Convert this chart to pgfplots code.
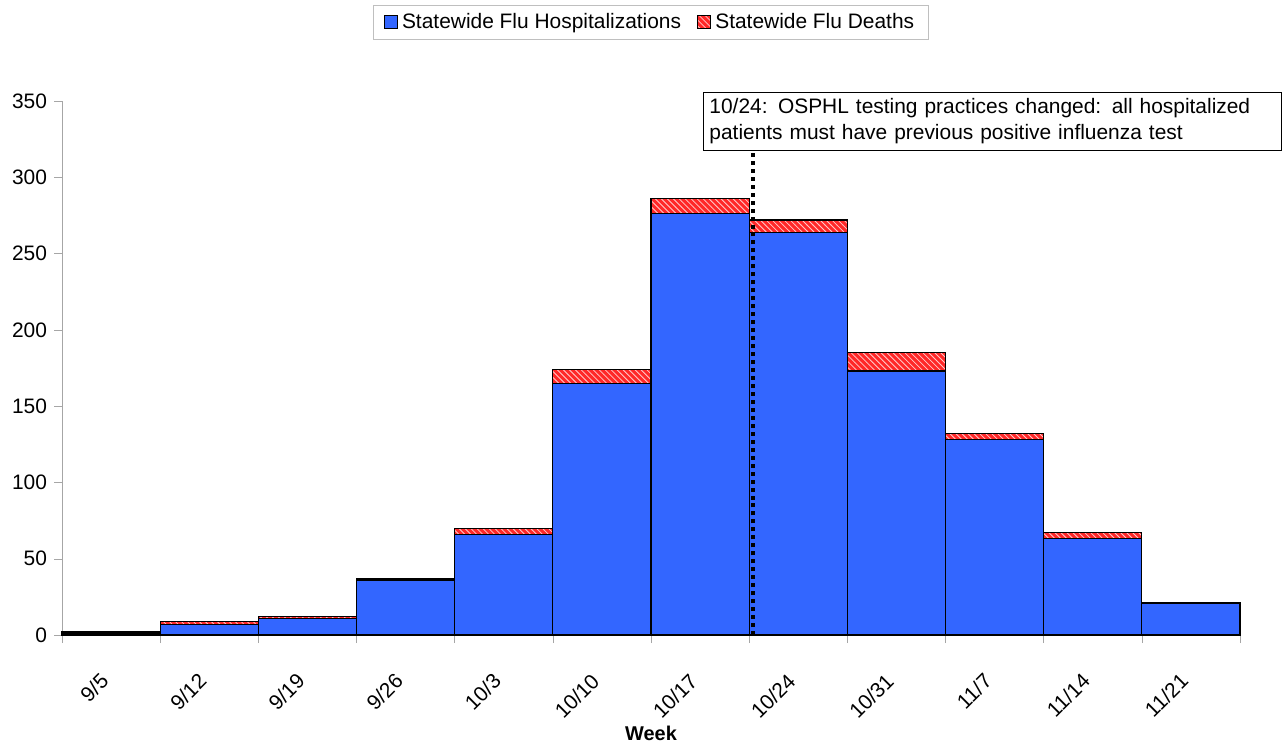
\documentclass[border=0pt]{standalone}
\usepackage{fontspec}
\setmainfont{Liberation Sans}
\usepackage{pgfplots}
\pgfplotsset{compat=1.18}
\usetikzlibrary{patterns}

\definecolor{hospblue}{RGB}{51,102,255}
\definecolor{deathred}{RGB}{255,40,40}
\definecolor{stripe}{RGB}{255,200,200}

\begin{document}
\begin{tikzpicture}
\useasboundingbox (0,0) rectangle (643bp,372.5bp);
\begin{axis}[
    at={(31bp,55bp)}, anchor=south west,
    scale only axis,
    width=589bp, height=267bp,
    ybar stacked,
    bar width=1,
    xmin=0, xmax=12,
    ymin=0, ymax=350,
    clip=false,
    axis lines=left,
    axis line style={-, draw=gray!70},
    tick style={draw=gray!70},
    tick align=outside,
    ytick={0,50,...,350},
    xtick={0.5,1.5,...,11.5},
    xticklabels={9/5,9/12,9/19,9/26,10/3,10/10,10/17,10/24,10/31,11/7,11/14,11/21},
    major x tick style={draw=none},
    minor xtick={0,1,...,12},
    minor tick length=4bp,
    major tick length=4bp,
    xticklabel style={rotate=45, anchor=north east, xshift=-11bp, yshift=-2.5bp},
    tick label style={font=\fontsize{10.5}{12}\selectfont},
    /pgf/number format/assume math mode=true,
    xlabel={\textbf{Week}},
    xlabel style={font=\fontsize{10}{12}\selectfont,
        at={(axis description cs:0.5,-0.1835)}, anchor=center},
    legend style={at={(0.5,1.18)}, anchor=north, legend columns=2, draw=gray!50,
        font=\fontsize{10.5}{12}\selectfont, inner xsep=5bp, inner ysep=2bp,
        /tikz/every even column/.append style={column sep=6bp}},
    legend cell align=left,
    legend image code/.code={\draw[#1, line width=0.5pt] (0bp,-3.3bp) rectangle (6.6bp,3.3bp);},
]
\addplot[fill=hospblue, draw=black, line width=0.6pt] coordinates {
    (0.5,1) (1.5,7) (2.5,11) (3.5,36) (4.5,66) (5.5,165)
    (6.5,276) (7.5,264) (8.5,173) (9.5,128) (10.5,63) (11.5,21)};
\addplot[fill=deathred, draw=black, line width=0.6pt,
    postaction={pattern=north west lines, pattern color=stripe}] coordinates {
    (0.5,1) (1.5,2) (2.5,1) (3.5,1) (4.5,4) (5.5,9)
    (6.5,10) (7.5,8) (8.5,12) (9.5,4) (10.5,4) (11.5,0)};
\legend{Statewide Flu Hospitalizations, Statewide Flu Deaths}
\coordinate (lineb) at (axis cs:7.04,0);
\coordinate (linet) at (axis cs:7.04,350);
\coordinate (boxnw) at (axis cs:6.53,355.8);
\end{axis}
\draw[black, line width=2pt, dash pattern=on 2pt off 2pt] (lineb) -- (linet);
\node[draw=black, fill=white, anchor=north west, align=left, inner xsep=3bp, inner ysep=3bp,
      font=\fontsize{10.5}{13}\selectfont, text width=283bp]
    at (boxnw)
    {10/24: OSPHL testing practices changed: all hospitalized\\patients must have previous positive influenza test};
\end{tikzpicture}
\end{document}
